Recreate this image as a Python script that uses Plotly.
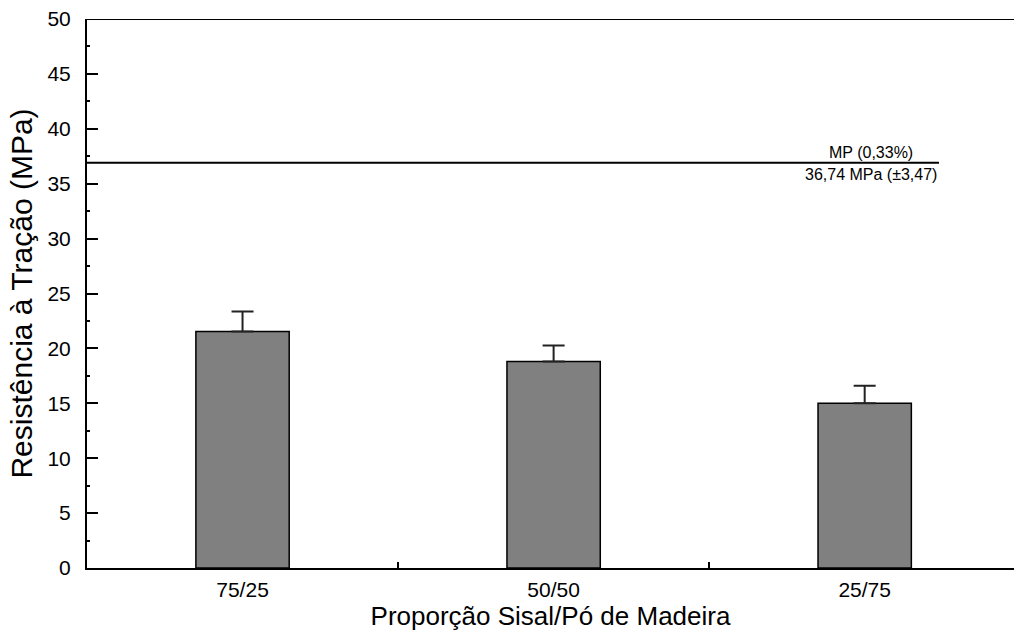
import plotly.graph_objects as go

categories = ["75/25", "50/50", "25/75"]
values = [21.54, 18.81, 15.01]
errors = [1.83, 1.46, 1.58]
ref_value = 36.9
ref_label_top = "MP (0,33%)"
ref_label_bottom = "36,74 MPa (±3,47)"
y_ticks = [0, 5, 10, 15, 20, 25, 30, 35, 40, 45, 50]

FONT = "Liberation Sans, Arial, sans-serif"

fig = go.Figure()
fig.add_trace(go.Bar(
    x=categories, y=values, width=0.3,
    marker=dict(color="#808080", line=dict(color="black", width=1.5)),
    error_y=dict(type="data", array=errors, symmetric=False, arrayminus=[0, 0, 0],
                 visible=True, color="#222222", thickness=2, width=11),
    showlegend=False,
))

fig.add_shape(type="line", xref="x", yref="y", x0=-0.5, x1=2.239,
              y0=ref_value, y1=ref_value, line=dict(color="black", width=2))
fig.add_shape(type="line", xref="paper", yref="y", x0=0, x1=1, y0=50, y1=50,
              line=dict(color="black", width=2))

fig.add_annotation(x=2.020, y=ref_value, xref="x", yref="y", text=ref_label_top,
                   showarrow=False, yanchor="bottom", yshift=0,
                   font=dict(family=FONT, size=16, color="black"))
fig.add_annotation(x=2.020, y=ref_value, xref="x", yref="y", text=ref_label_bottom,
                   showarrow=False, yanchor="top", yshift=-1,
                   font=dict(family=FONT, size=16, color="black"))

fig.update_layout(
    width=1014, height=644,
    margin=dict(l=87, r=0, t=19, b=76),
    plot_bgcolor="white", paper_bgcolor="white",
    font=dict(family=FONT, color="black"),
    xaxis=dict(
        range=[-0.5, 2.48], showline=True, linecolor="black", linewidth=2,
        ticks="inside", tickson="boundaries", ticklen=6, tickwidth=2, tickcolor="black",
        showgrid=False, zeroline=False, tickfont=dict(size=21), ticklabelstandoff=2,
        title=dict(text="Proporção Sisal/Pó de Madeira", font=dict(size=26), standoff=2),
    ),
    yaxis=dict(
        range=[0, 50], showline=True, linecolor="black", linewidth=2,
        tickvals=y_ticks, ticks="inside", ticklen=11, tickwidth=1.5, tickcolor="black",
        minor=dict(dtick=2.5, ticks="inside", ticklen=3, tickcolor="black", showgrid=False),
        showgrid=False, zeroline=False, tickfont=dict(size=21), ticklabelstandoff=10,
        title=dict(text="Resistência à Tração (MPa)", font=dict(size=30), standoff=6),
    ),
)

fig.write_html("out.html")
